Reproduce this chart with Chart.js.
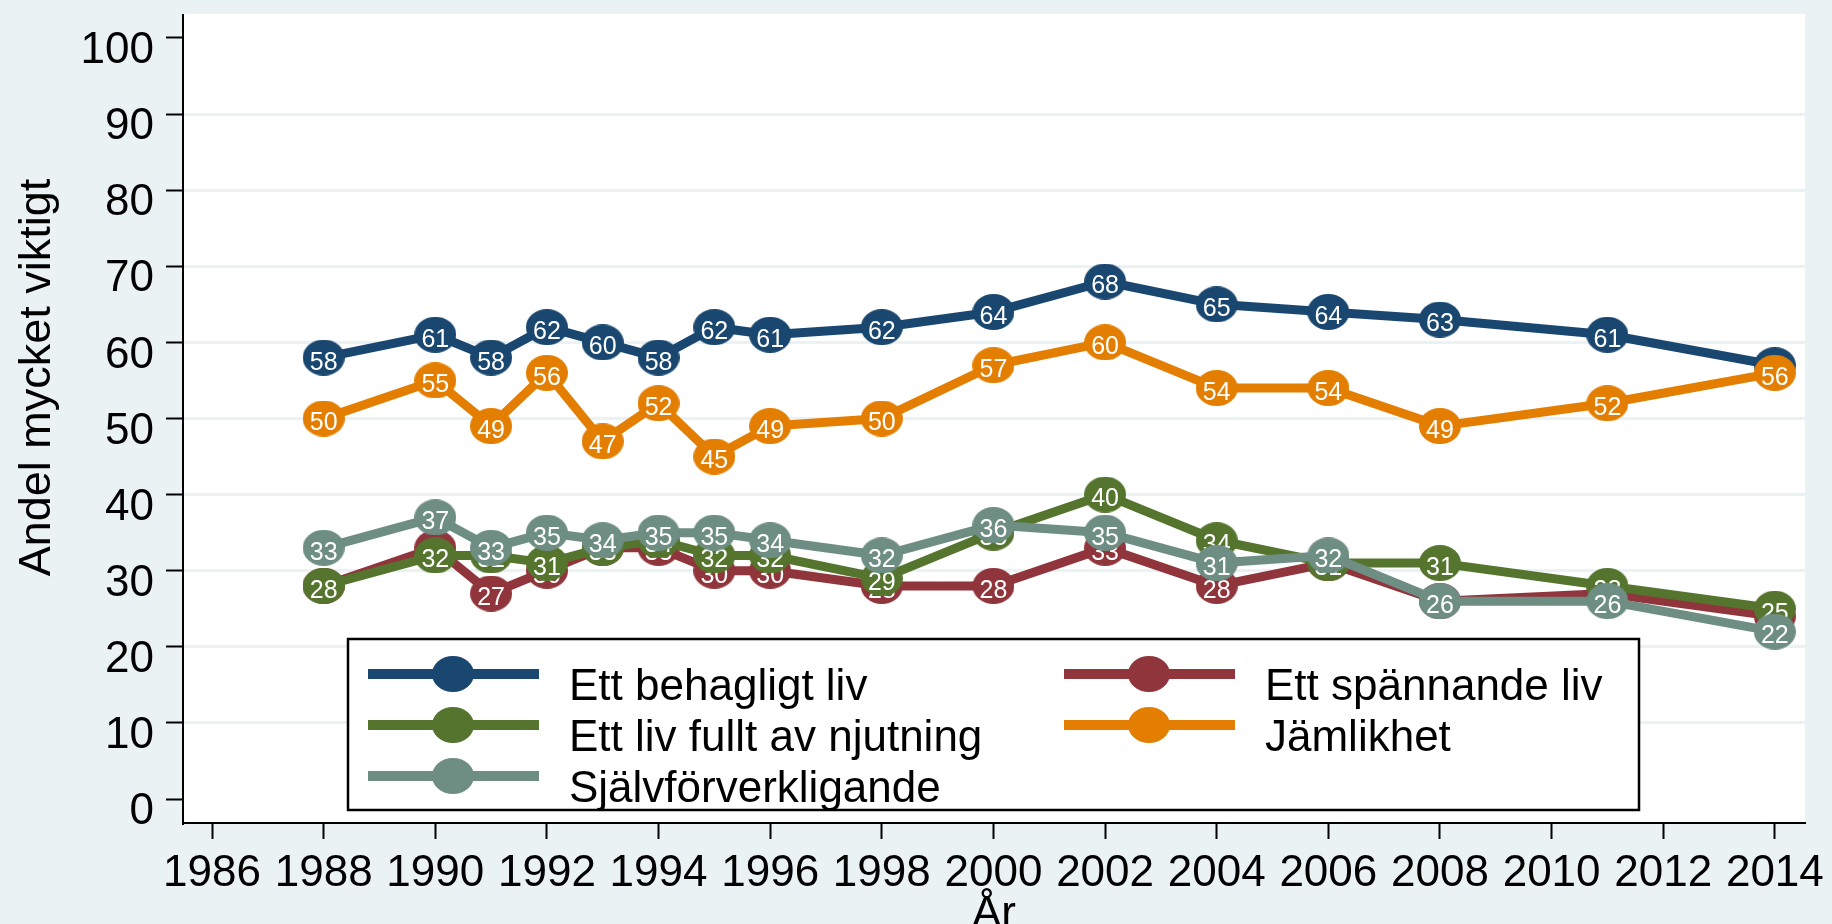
<!DOCTYPE html>
<html>
<head>
<meta charset="utf-8">
<script src="https://cdn.jsdelivr.net/npm/chart.js@4"></script>
<style>
  html, body { margin: 0; padding: 0; background: #eaf2f3; overflow: hidden; }
  #wrap { width: 1832px; height: 960px; position: relative; }
</style>
</head>
<body>
<div id="wrap"><canvas id="chart"></canvas></div>
<script>
// survey years and share answering "mycket viktigt" (%)
const years = [1988, 1990, 1991, 1992, 1993, 1994, 1995, 1996, 1998, 2000, 2002, 2004, 2006, 2008, 2011, 2014];
const behagligt = [58, 61, 58, 62, 60, 58, 62, 61, 62, 64, 68, 65, 64, 63, 61, 57];
const spannande = [28, 33, 27, 30, 33, 33, 30, 30, 28, 28, 33, 28, 31, 26, 27, 24];
const fulltAvNjutning = [28, 32, 32, 31, 33, 34, 32, 32, 29, 35, 40, 34, 31, 31, 28, 25];
const jamlikhet = [50, 55, 49, 56, 47, 52, 45, 49, 50, 57, 60, 54, 54, 49, 52, 56];
const sjalvforverkligande = [33, 37, 33, 35, 34, 35, 35, 34, 32, 36, 35, 31, 32, 26, 26, 22];

const seriesNames = ["Ett behagligt liv", "Ett spännande liv", "Ett liv fullt av njutning", "Jämlikhet", "Självförverkligande"];
const seriesValues = [behagligt, spannande, fulltAvNjutning, jamlikhet, sjalvforverkligande];
const seriesColors = ["#1a476f", "#90353b", "#55752f", "#e37e00", "#6e8e84"];

const xTicks = [1986, 1988, 1990, 1992, 1994, 1996, 1998, 2000, 2002, 2004, 2006, 2008, 2010, 2012, 2014];
const yTicks = [0, 10, 20, 30, 40, 50, 60, 70, 80, 90, 100];

const FONT = '"Liberation Sans", Arial, Helvetica, sans-serif';
Chart.defaults.font.family = FONT;
Chart.defaults.color = "#000";

// page layout (px): canvas is taller than the window so the x title gets cut like the original
const CANVAS_H = 960;
const PLOT_TOP = 14;
const PLOT_BOTTOM = 823;
const Y100_PX = 38;
const Y0_PX = 799;

// stata-like oval marker
function marker(color) {
  const c = document.createElement("canvas");
  c.width = 42;
  c.height = 36;
  const g = c.getContext("2d");
  g.fillStyle = color;
  g.beginPath();
  g.ellipse(21, 18, 21, 18, 0, 0, Math.PI * 2);
  g.fill();
  return c;
}

const plotBackground = {
  id: "plotBackground",
  beforeDraw(chart) {
    const { ctx, chartArea: ca } = chart;
    ctx.save();
    ctx.fillStyle = "#fff";
    ctx.fillRect(ca.left, PLOT_TOP, ca.right - ca.left, ca.bottom - PLOT_TOP);
    // y axis line runs up to the top of the plot region
    ctx.strokeStyle = "#000";
    ctx.lineWidth = 2;
    ctx.beginPath();
    ctx.moveTo(ca.left, PLOT_TOP);
    ctx.lineTo(ca.left, ca.top + 2);
    ctx.stroke();
    ctx.restore();
  },
};

// value labels, drawn right after each series so later series cover them
const pointLabels = {
  id: "pointLabels",
  afterDatasetDraw(chart, args) {
    const ctx = chart.ctx;
    const ds = chart.data.datasets[args.index];
    ctx.save();
    ctx.font = "25px " + FONT;
    ctx.fillStyle = "#fff";
    ctx.textAlign = "center";
    ctx.textBaseline = "middle";
    args.meta.data.forEach((pt, i) => {
      ctx.fillText(String(ds.data[i].y), pt.x, pt.y + 5);
    });
    ctx.restore();
  },
};

const yTitle = {
  id: "yTitle",
  afterDraw(chart) {
    const ctx = chart.ctx;
    ctx.save();
    ctx.translate(50, (PLOT_TOP + PLOT_BOTTOM) / 2 - 41);
    ctx.rotate(-Math.PI / 2);
    ctx.font = "45px " + FONT;
    ctx.fillStyle = "#000";
    ctx.textAlign = "center";
    ctx.textBaseline = "alphabetic";
    ctx.fillText("Andel mycket viktigt", 0, 0);
    ctx.restore();
  },
};

const legendBox = {
  id: "legendBox",
  afterDraw(chart) {
    const { ctx, chartArea: ca } = chart;
    const bx = ca.left + 165, by = PLOT_TOP + 625, bw = 1291, bh = 171;
    ctx.save();
    ctx.fillStyle = "#fff";
    ctx.fillRect(bx, by, bw, bh);
    ctx.strokeStyle = "#000";
    ctx.lineWidth = 2.5;
    ctx.strokeRect(bx, by, bw, bh);
    ctx.font = "44px " + FONT;
    ctx.textAlign = "left";
    ctx.textBaseline = "alphabetic";
    chart.data.datasets.forEach((ds, i) => {
      const col = i % 2, row = Math.floor(i / 2);
      const x0 = bx + 20 + col * 696;
      const y = by + 35 + row * 51;
      ctx.strokeStyle = ds.borderColor;
      ctx.lineWidth = 10;
      ctx.lineCap = "butt";
      ctx.beginPath();
      ctx.moveTo(x0, y);
      ctx.lineTo(x0 + 171, y);
      ctx.stroke();
      ctx.drawImage(ds.pointStyle, x0 + 85 - 21, y - 18);
      ctx.fillStyle = "#000";
      ctx.fillText(ds.label, x0 + 201, y + 26);
    });
    ctx.restore();
  },
};

const datasets = seriesNames.map((name, i) => ({
  label: name,
  data: years.map((yr, j) => ({ x: yr, y: seriesValues[i][j] })),
  borderColor: seriesColors[i],
  backgroundColor: seriesColors[i],
  borderWidth: 9,
  borderJoinStyle: "round",
  tension: 0,
  pointStyle: marker(seriesColors[i]),
  pointRadius: 18,
  order: seriesNames.length - i, // first series drawn first, last on top
  clip: false,
}));

const chart = new Chart(document.getElementById("chart"), {
  type: "line",
  data: { datasets },
  plugins: [plotBackground, pointLabels, yTitle, legendBox],
  options: {
    responsive: true,
    maintainAspectRatio: false,
    animation: false,
    events: [],
    layout: { padding: { top: PLOT_TOP, right: 25, left: 0, bottom: 0 } },
    plugins: {
      legend: { display: false },
      tooltip: { enabled: false },
    },
    scales: {
      x: {
        type: "linear",
        min: 1985.48,
        max: 2014.54,
        afterBuildTicks: (s) => { s.ticks = xTicks.map((v) => ({ value: v })); },
        afterFit: (s) => {
          s.height = CANVAS_H - PLOT_BOTTOM;
          s.paddingLeft = 0;
          s.paddingRight = 0;
        },
        ticks: {
          font: { size: 44 },
          color: "#000",
          padding: 8,
          maxRotation: 0,
          autoSkip: false,
          callback: (v) => String(v),
        },
        grid: {
          drawOnChartArea: false,
          tickLength: 16,
          tickWidth: 2,
          tickColor: "#000",
        },
        border: { display: true, color: "#000", width: 2 },
        title: {
          display: true,
          text: "År",
          font: { size: 44 },
          color: "#000",
          padding: { top: 0, bottom: 19 },
        },
      },
      y: {
        type: "linear",
        min: -3.15,
        max: 103.15,
        afterBuildTicks: (s) => { s.ticks = yTicks.map((v) => ({ value: v })); },
        afterFit: (s) => {
          s.width = 183;
          s.paddingTop = 0;
          s.paddingBottom = 0;
        },
        ticks: {
          font: { size: 44 },
          color: "#000",
          padding: 12,
          labelOffset: 13,
          autoSkip: false,
          callback: (v) => String(v),
        },
        grid: {
          color: (c) => (c.tick && (c.tick.value === 0 || c.tick.value === 100) ? "rgba(0,0,0,0)" : "#eaf2f3"),
          lineWidth: 3,
          tickLength: 17,
          tickWidth: 2,
          tickColor: "#000",
        },
        border: { display: true, color: "#000", width: 2 },
        title: { display: false },
      },
    },
  },
});

// Chart.js keeps some top room for the tick labels; fit the value range so 0 and 100 land where the original has them
const ca = chart.chartArea;
const unit = (Y0_PX - Y100_PX) / 100;
chart.options.scales.y.max = 100 + (Y100_PX - ca.top) / unit;
chart.options.scales.y.min = -(ca.bottom - Y0_PX) / unit;
chart.update();
</script>
</body>
</html>
